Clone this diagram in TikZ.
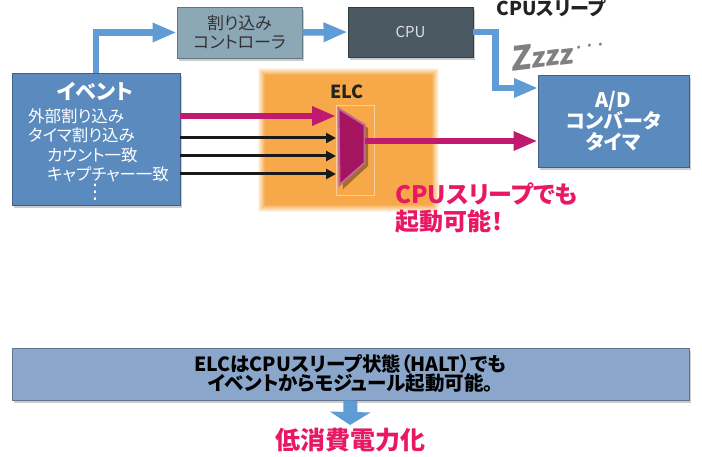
\documentclass[tikz,border=0pt]{standalone}
\usepackage{fontspec}
\setmainfont{Noto Sans CJK JP}[RawFeature=+palt]
\newfontfamily\symfont{DejaVu Sans}
\usetikzlibrary{arrows.meta,shadows}
\definecolor{evblue}{RGB}{91,139,190}
\definecolor{icgray}{RGB}{140,168,182}
\definecolor{cpugray}{RGB}{74,89,98}
\definecolor{arrblue}{RGB}{95,155,212}
\definecolor{bannerc}{RGB}{138,166,203}
\definecolor{orangec}{RGB}{247,168,72}
\definecolor{magtext}{RGB}{232,24,100}
\definecolor{magarr}{RGB}{192,26,112}
\definecolor{muxc}{RGB}{165,20,95}
\definecolor{darktext}{RGB}{35,35,35}
\definecolor{zgray}{RGB}{128,128,128}
\tikzset{
  boxc/.style={draw=#1!70!black, line width=0.9pt, fill=#1, inner sep=0pt, align=center,
    drop shadow={shadow xshift=2pt, shadow yshift=-3pt, opacity=0.4}},
  bluearr/.style={draw=arrblue, line width=6.5pt, -{Triangle[length=24pt,width=18pt]}},
  magarrow/.style={draw=magarr, line width=6pt, -{Triangle[length=24pt,width=18pt]}},
  blkarrow/.style={draw=black!90, line width=3pt, -{Triangle[length=10pt,width=10pt]}},
  evtext/.style={anchor=west, text=white, font=\fontsize{16.5}{19}\selectfont, inner sep=0pt},
}
\begin{document}
\begin{tikzpicture}[x=1pt,y=-1pt]
\useasboundingbox (0,0) rectangle (702,457);
\fill[white] (0,0) rectangle (702,457);

% orange ELC glow
\foreach \d/\o in {7/0.12,6/0.14,5/0.17,4/0.2,3/0.25,2/0.33,1/0.5}{
  \fill[orangec, opacity=\o] (265-\d,75-\d) rectangle (432+\d,205+\d);
}
\fill[orangec] (265,75) rectangle (432,205);
\draw[orangec!55!white, line width=0.6pt] (336,105) rectangle (374,195);
\node[text=darktext, font=\bfseries\fontsize{18}{18}\selectfont] (elc) at (347,92) {ELC};

% boxes
\node[boxc=icgray, minimum width=125pt, minimum height=51pt, text=black!80,
  font=\fontsize{17}{19}\selectfont] (ic) at (239.5,32.5) {割り込み\\コントローラ};
\node[boxc=cpugray, minimum width=125pt, minimum height=50pt, text=white!88!black,
  font=\fontsize{15}{19}\selectfont] (cpu) at (410.5,32) {CPU};
\node[boxc=evblue, minimum width=151pt, minimum height=92pt, text=white,
  font=\bfseries\fontsize{20}{20.5}\selectfont] (ad) at (613.5,121) {A/D\\コンバータ\\タイマ};
\node[boxc=evblue, minimum width=168pt, minimum height=132pt] (ev) at (96,139) {};

% event texts
\node[text=white, font=\bfseries\fontsize{21}{21}\selectfont, inner sep=0pt] (evt) at (95,91) {イベント};
\node[evtext] (e1) at (28,116) {外部割り込み};
\node[evtext] (e2) at (28,135) {タイマ割り込み};
\node[evtext] (e3) at (47,155) {カウント一致};
\node[evtext] (e4) at (47,174) {キャプチャー一致};
\node[text=white, font=\symfont\fontsize{20}{20}\selectfont, inner sep=0pt] (e5) at (95,192) {⋮};

% CPU sleep
\node[text=darktext, font=\bfseries\fontsize{19}{19}\selectfont, inner sep=0pt] (slp) at (551,8) {CPUスリープ};
\node[text=zgray, font=\bfseries, rotate=7, xslant=0.15, inner sep=0pt] (zz) at (558,53)
  {{\fontsize{33}{33}\selectfont Z}{\fontsize{27}{27}\selectfont zzz}\raisebox{10pt}{\fontsize{14}{14}\selectfont ·\,·\,·}};

% mux
\coordinate (m1) at (336,116);
\coordinate (m2) at (336,138);
\coordinate (m3) at (336,156);
\coordinate (m4) at (336,174);
\coordinate (muxout) at (365,141);
\fill[black, opacity=0.35] (341,111) -- (368,128) -- (368,166) -- (343,189) -- cycle;
\filldraw[fill=muxc, draw=muxc!65!white, line width=2pt, line join=miter]
  (338.5,108.5) -- (364.5,125) -- (364.5,163) -- (339.5,185) -- cycle;

% arrows
\draw[magarrow] (ev.east |- m1) -- (m1);
\draw[blkarrow] (ev.east |- m2) -- (m2);
\draw[blkarrow] (ev.east |- m3) -- (m3);
\draw[blkarrow] (ev.east |- m4) -- (m4);
\draw[magarrow] (muxout) -- (ad.west |- muxout);

\coordinate (adin) at (538,88);
\draw[bluearr] (ev.north) |- (ic.west);
\draw[bluearr] (ic.east) -- (cpu.west);
\draw[bluearr] (cpu.east) -- ++(22,0) |- (adin);

% red remark
\node[text=magtext, font=\bfseries\fontsize{24}{27}\selectfont, align=left, anchor=west, inner sep=0pt]
  (rem) at (395,208) {CPUスリープでも\\起動可能！};

% banner
\node[boxc=bannerc, minimum width=677pt, minimum height=52pt, text=black,
  font=\bfseries\fontsize{19.5}{19}\selectfont] (ban) at (350.5,374)
  {ELCはCPUスリープ状態（HALT）でも\\イベントからモジュール起動可能。};
\node[text=magtext, font=\bfseries\fontsize{25}{25}\selectfont, inner sep=0pt] (low) at (350,440) {低消費電力化};
\draw[draw=arrblue, line width=14pt, -{Triangle[length=13pt,width=40pt]}] (ban.south) -- (350,425);
\end{tikzpicture}
\end{document}
